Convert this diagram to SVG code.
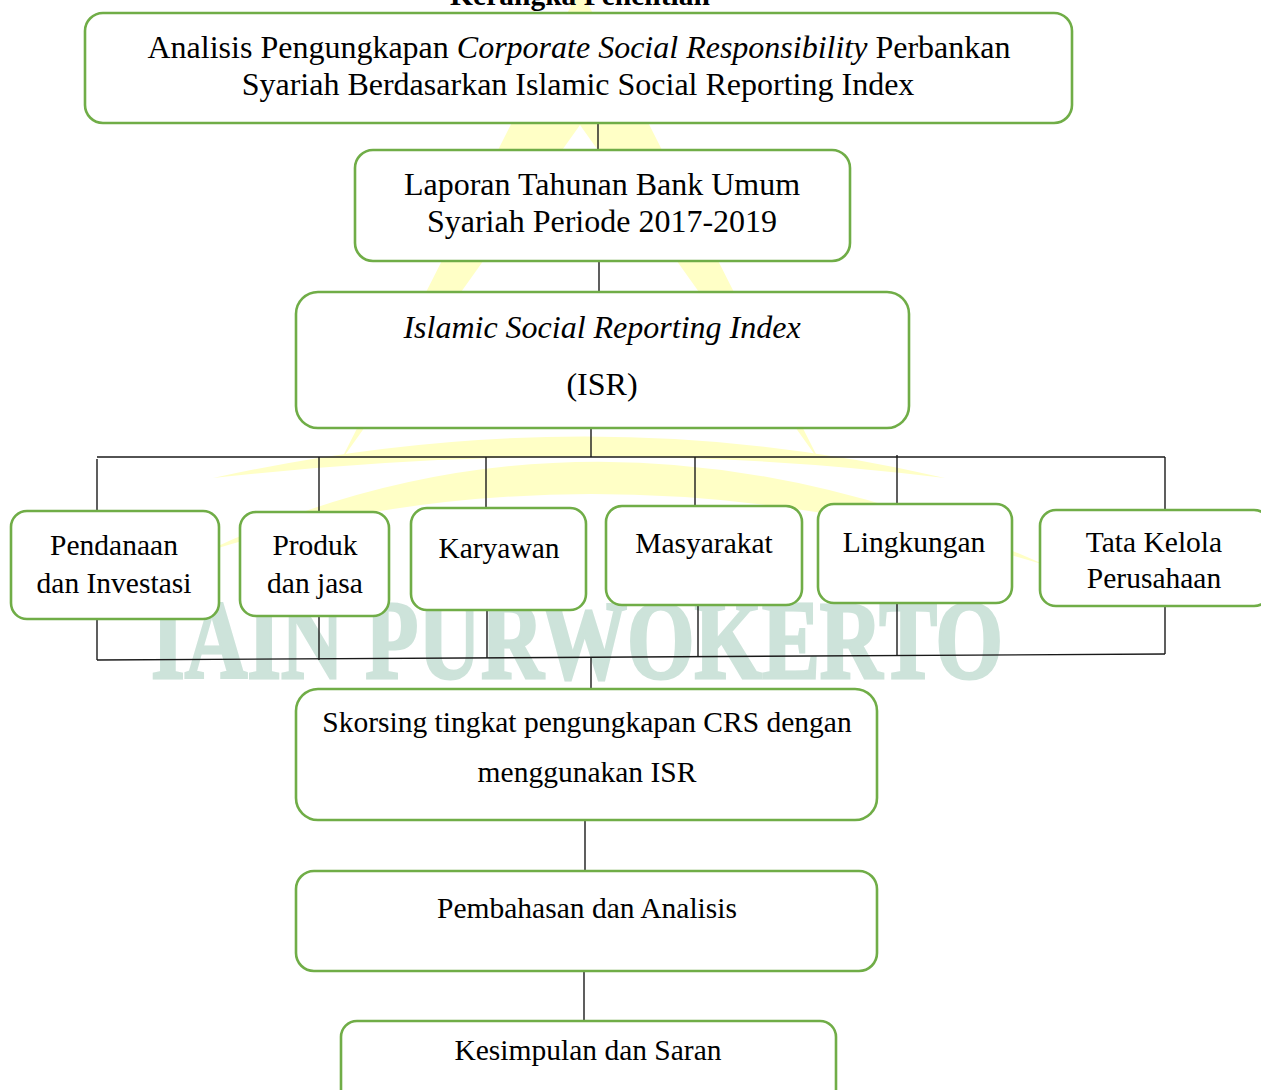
<svg xmlns="http://www.w3.org/2000/svg" width="1261" height="1090" viewBox="0 0 1261 1090">
<style>
.box{fill:#ffffff;stroke:#70AD47;stroke-width:2.6}
.t{font-family:"Liberation Serif","Times New Roman",serif;font-size:29.5px;fill:#000;text-anchor:middle}
.b{font-size:32px}
.i{font-style:italic}
.ln{stroke:#1a1a1a;stroke-width:1.4;fill:none}
.wy{fill:#FFFFC6}
</style>
<rect width="1261" height="1090" fill="#ffffff"/>
<g id="watermark">
<polygon class="wy" points="580,-12 340,462 580,125 820,462"/>
<path class="wy" d="M213,478 Q590,395 945,478 Q600,435 213,478 Z"/>
<path class="wy" d="M205,552 Q600,365 1045,565 Q600,430 205,552 Z"/>
<text x="577" y="678" font-family="Liberation Serif, serif" font-weight="bold" font-size="112" fill="#CDE3DA" stroke="#CDE3DA" stroke-width="3" text-anchor="middle" textLength="852" lengthAdjust="spacingAndGlyphs">IAIN PURWOKERTO</text>
</g>
<text id="title" x="580" y="5" class="t" font-weight="bold" font-size="34">Kerangka Penelitian</text>
<g id="connectors">
<line class="ln" x1="598" y1="123" x2="598" y2="150"/>
<line class="ln" x1="599" y1="261" x2="599" y2="292"/>
<line class="ln" x1="591" y1="428" x2="591" y2="457"/>
<line class="ln" x1="97" y1="457" x2="1165" y2="457"/>
<line class="ln" x1="97" y1="459" x2="97" y2="511"/>
<line class="ln" x1="319" y1="457" x2="319" y2="512"/>
<line class="ln" x1="486" y1="457" x2="486" y2="508"/>
<line class="ln" x1="695" y1="457" x2="695" y2="506"/>
<line class="ln" x1="897" y1="455" x2="897" y2="504"/>
<line class="ln" x1="1165" y1="457" x2="1165" y2="510"/>
<line class="ln" x1="97" y1="619" x2="97" y2="660"/>
<line class="ln" x1="319" y1="616" x2="319" y2="660"/>
<line class="ln" x1="487" y1="610" x2="487" y2="658"/>
<line class="ln" x1="698" y1="605" x2="698" y2="657"/>
<line class="ln" x1="897" y1="603" x2="897" y2="655"/>
<line class="ln" x1="1165" y1="606" x2="1165" y2="654"/>
<line class="ln" x1="97" y1="660" x2="1165" y2="654"/>
<line class="ln" x1="591" y1="658" x2="591" y2="689"/>
<line class="ln" x1="585" y1="820" x2="585" y2="871"/>
<line class="ln" x1="584" y1="971" x2="584" y2="1021"/>
</g>
<g id="n1"><rect class="box" x="85" y="13" width="987" height="110" rx="18"/>
<text class="t b" x="579" y="58">Analisis Pengungkapan <tspan class="i">Corporate Social Responsibility</tspan> Perbankan</text>
<text class="t b" x="578" y="95">Syariah Berdasarkan Islamic Social Reporting Index</text></g>
<g id="n2"><rect class="box" x="355" y="150" width="495" height="111" rx="18"/>
<text class="t b" x="602" y="195">Laporan Tahunan Bank Umum</text>
<text class="t b" x="602" y="232">Syariah Periode 2017-2019</text></g>
<g id="n3"><rect class="box" x="296" y="292" width="613" height="136" rx="22"/>
<text class="t b i" x="602" y="338">Islamic Social Reporting Index</text>
<text class="t b" x="602" y="395">(ISR)</text></g>
<g id="n4"><rect class="box" x="11" y="511" width="208" height="108" rx="16"/>
<text class="t" x="114" y="555">Pendanaan</text>
<text class="t" x="114" y="593">dan Investasi</text></g>
<g id="n5"><rect class="box" x="240" y="512" width="149" height="104" rx="16"/>
<text class="t" x="315" y="555">Produk</text>
<text class="t" x="315" y="593">dan jasa</text></g>
<g id="n6"><rect class="box" x="411" y="508" width="175" height="102" rx="16"/>
<text class="t" x="499" y="558">Karyawan</text></g>
<g id="n7"><rect class="box" x="606" y="506" width="196" height="99" rx="16"/>
<text class="t" x="704" y="553">Masyarakat</text></g>
<g id="n8"><rect class="box" x="818" y="504" width="194" height="99" rx="16"/>
<text class="t" x="914" y="552">Lingkungan</text></g>
<g id="n9"><rect class="box" x="1040" y="510" width="230" height="96" rx="16"/>
<text class="t" x="1154" y="552">Tata Kelola</text>
<text class="t" x="1154" y="588">Perusahaan</text></g>
<g id="n10"><rect class="box" x="296" y="689" width="581" height="131" rx="22"/>
<text class="t" x="587" y="732">Skorsing tingkat pengungkapan CRS dengan</text>
<text class="t" x="587" y="782">menggunakan ISR</text></g>
<g id="n11"><rect class="box" x="296" y="871" width="581" height="100" rx="18"/>
<text class="t" x="587" y="918">Pembahasan dan Analisis</text></g>
<g id="n12"><rect class="box" x="341" y="1021" width="495" height="90" rx="16"/>
<text class="t" x="588" y="1060">Kesimpulan dan Saran</text></g>
</svg>
